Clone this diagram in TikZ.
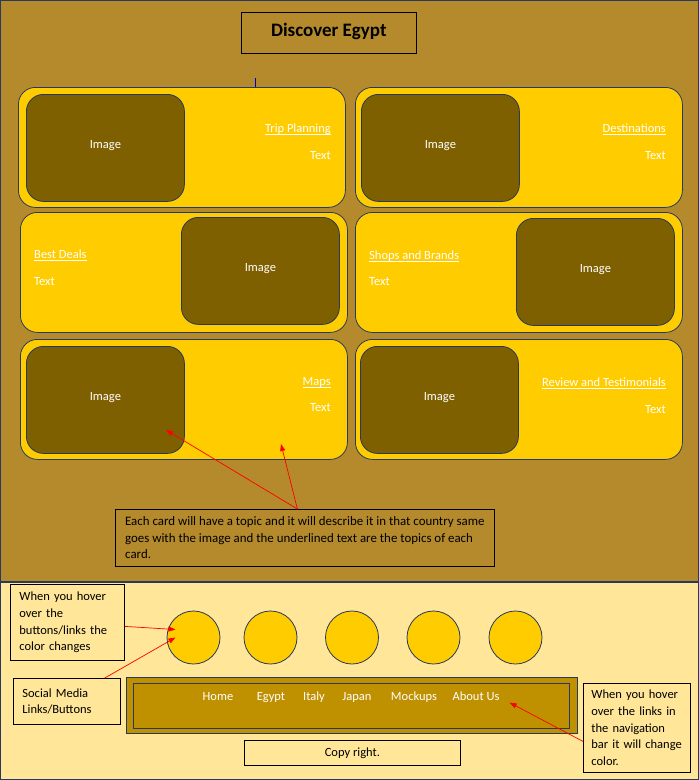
\documentclass[tikz,border=0pt]{standalone}
\usepackage{fontspec}
\setmainfont{Carlito}
\usetikzlibrary{arrows.meta,positioning,calc}

\definecolor{bgtop}{RGB}{180,138,44}
\definecolor{bgbot}{RGB}{255,230,153}
\definecolor{cardfill}{RGB}{255,204,0}
\definecolor{imgfill}{RGB}{127,96,0}
\definecolor{navfill}{RGB}{191,144,0}
\definecolor{edge}{RGB}{38,58,96}

\newcommand{\wirefont}{\fontsize{12.5}{16.7}\selectfont}
\newcommand{\topicline}[1]{$\underline{\smash{\hbox{#1}}}$}

\tikzset{
    card/.style={draw=edge, fill=cardfill, line width=0.8pt, rounded corners=17pt,
        minimum width=327pt, minimum height=120pt, anchor=north west},
    imgbox/.style={draw=edge, fill=imgfill, line width=0.8pt, rounded corners=17pt,
        minimum width=158pt, minimum height=107pt, anchor=north west,
        text=white, font=\wirefont, text height=9pt, text depth=8pt},
    topic/.style={text=white, inner sep=0pt, font=\wirefont},
    notebox/.style={draw=black, line width=0.8pt, align=left, anchor=north west,
        inner sep=0pt, font=\wirefont},
    socialbtn/.style={circle, draw=edge, fill=cardfill, line width=0.8pt, minimum size=53pt},
    navlink/.style={text=white, inner sep=0pt, font=\wirefont, anchor=mid},
    redarrow/.style={red, line width=0.7pt, -{Triangle[length=7pt,width=5pt]}}
}

\begin{document}
\begin{tikzpicture}[x=1pt, y=-1pt]
    \useasboundingbox (0,0) rectangle (699,780);

    % Page sections
    \draw[edge, line width=1.4pt, fill=bgtop] (0,0) rectangle (699,582);
    \draw[edge, line width=1.4pt, fill=bgbot] (0,582) rectangle (699,780);

    % Title
    \node[draw=black, line width=0.8pt, minimum width=175pt, minimum height=41pt,
        anchor=north west, font=\fontsize{19}{21}\selectfont\bfseries,
        text height=13pt, text depth=6pt] (title) at (241,12) {Discover Egypt};
    \draw[blue!75!black, line width=0.6pt] (255,78) -- (255,93);

    % Cards
    \foreach \n/\x/\y in {c1/18/87, c2/355/87, c3/20/212, c4/355/212, c5/20/339, c6/355/339} {
        \node[card] (\n) at (\x,\y) {};
    }

    % Image boxes
    \foreach \n/\x/\y in {i1/26/94, i2/361/94, i3/181/217, i4/516/218, i5/26/346, i6/360/346} {
        \node[imgbox] (\n) at (\x,\y) {Image};
    }

    % Topics
    \node[topic, anchor=mid east] (t1) at (331,130) {\topicline{Trip Planning}};
    \node[topic, anchor=mid east] (x1) at (331,157) {Text};
    \node[topic, anchor=mid east] (t2) at (666,130) {\topicline{Destinations}};
    \node[topic, anchor=mid east] (x2) at (666,157) {Text};
    \node[topic, anchor=mid west] (t3) at (34,256) {\topicline{Best Deals}};
    \node[topic, anchor=mid west] (x3) at (34,283) {Text};
    \node[topic, anchor=mid west] (t4) at (369,257) {\topicline{Shops and Brands}};
    \node[topic, anchor=mid west] (x4) at (369,283) {Text};
    \node[topic, anchor=mid east] (t5) at (331,383) {\topicline{Maps}};
    \node[topic, anchor=mid east] (x5) at (331,409) {Text};
    \node[topic, anchor=mid east] (t6) at (666,384) {\topicline{Review and Testimonials}};
    \node[topic, anchor=mid east] (x6) at (666,411) {Text};

    % Card note
    \node[notebox, minimum width=379pt, minimum height=57pt, font=\fontsize{12.9}{16.6}\selectfont]
        (note) at (115,509) {Each card will have a topic and it will describe it in that country same\\
        goes with the image and the underlined text are the topics of each\\ card.};
    \coordinate (tipimg) at (166,430);
    \coordinate (tipcard) at (281,444);
    \draw[redarrow] ([xshift=-7.5pt]note.north) -- (tipimg);
    \draw[redarrow] ([xshift=-7.5pt]note.north) -- (tipcard);

    % Social media buttons
    \foreach \i/\x in {1/193.5, 2/270.5, 3/352, 4/433.5, 5/515.5} {
        \node[socialbtn] (b\i) at (\x,637.5) {};
    }

    % Navigation bar
    \node[draw=edge, fill=navfill, line width=0.8pt, minimum width=451pt, minimum height=56pt,
        anchor=north west] (navout) at (126,677) {};
    \node[draw=edge, fill=navfill, line width=0.8pt, minimum width=436pt, minimum height=45pt,
        anchor=north west] (navin) at (133,683) {};
    \foreach \n/\x/\lbl in {home/218/Home, egypt/271/Egypt, italy/314/Italy,
        japan/357/Japan, mockups/414/Mockups, about/476/About Us} {
        \node[navlink] (\n) at (\x,698.5) {\lbl};
    }

    % Copy right
    \node[draw=black, line width=0.8pt, minimum width=216pt, minimum height=25pt,
        anchor=north west, font=\wirefont] (copy) at (244,740) {Copy right.};

    % Footer notes
    \node[notebox, minimum width=114pt, minimum height=76pt, text width=96pt]
        (hover) at (10,584) {When you hover\\ over the\\ buttons/links the\\ color changes};
    \node[notebox, minimum width=107pt, minimum height=46pt, text width=89pt]
        (social) at (13,678) {Social Media\\ Links/Buttons};
    \node[notebox, minimum width=107pt, minimum height=89pt, text width=91pt]
        (navnote) at (583,683) {When you hover\\ over the links in\\ the navigation\\ bar it will change\\ color.};

    % Arrows
    \draw[redarrow] ([yshift=-4pt]hover.east) -- ($(b1.center)+(-18,-8)$);
    \draw[redarrow] ($(social.north east)+(-16,0)$) -- ($(b1.center)+(-18,0)$);
    \draw[redarrow] ([yshift=-13.5pt]navnote.west) -- ($(about.east)+(10,6)$);
\end{tikzpicture}
\end{document}
